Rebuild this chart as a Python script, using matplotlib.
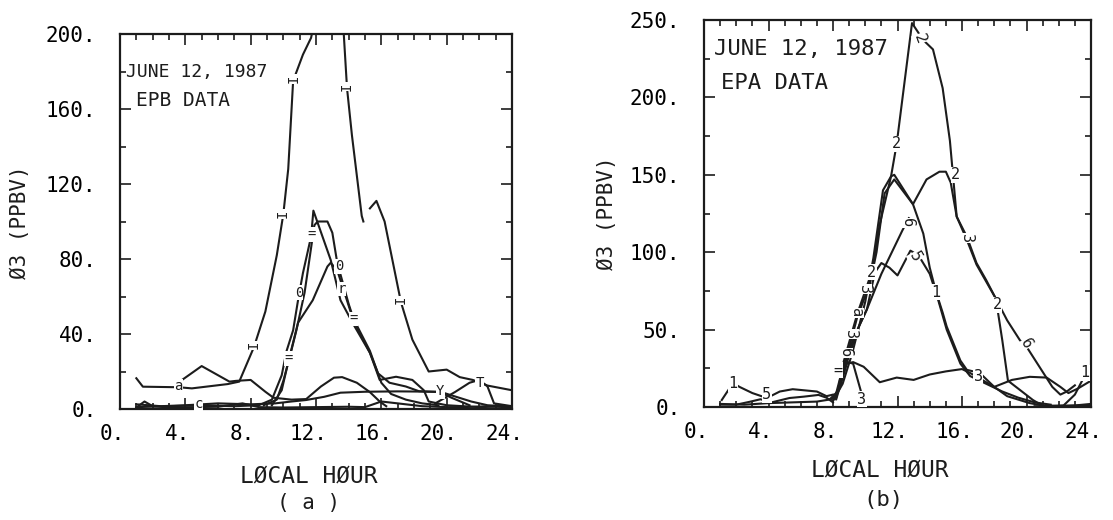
import numpy as np
import matplotlib
matplotlib.use("Agg")
import matplotlib.pyplot as plt
import matplotlib.transforms as mtransforms
from matplotlib.ticker import MultipleLocator

plt.rcParams['font.family'] = ['DejaVu Sans Mono', 'DejaVu Sans']

nan = np.nan
x_ticks = [0, 4, 8, 12, 16, 20, 24]
x_tick_labels = ["0.", "4.", "8.", "12.", "16.", "20.", "24."]
a_y_ticks = [0, 40, 80, 120, 160, 200]
a_y_tick_labels = ["0.", "40.", "80.", "120.", "160.", "200."]
b_y_ticks = [0, 50, 100, 150, 200, 250]
b_y_tick_labels = ["0.", "50.", "100.", "150.", "200.", "250."]

# panel (a): EPB stations, local hour vs O3 (ppbv)
a_h1 = [1.0, 1.4, 3.6, 4.4, 6.6, 7.3, 8.2, 8.9, 9.6, 10.0, 10.3, 10.6, 11.2, 11.7, 12.7, 13.7, 13.9,
        14.2, 14.8, 14.9, nan, 15.3, 15.7, 16.2, 17.2, 17.9, 18.9, 20.0, 20.8, 21.6, 22.5, 24.0]
a_v1 = [16.4, 11.9, 11.6, 11.0, 13.3, 14.6, 33, 52, 82, 104, 128, 175, 189, 198, 240, 200, 171,
        146, 103, 100, nan, 107, 111, 100, 57, 37, 20, 21, 17, 15.5, 12.5, 10]
a_h2 = [3.6, 3.8, 5.0, 6.7, 7.1, 8.0, 8.9, 9.4, 10.5, 11.4, 12.3, 13.1, 13.6, 14.5, 15.3, 15.9, 16.3]
a_v2 = [11.6, 15.5, 22.9, 14.6, 15, 15.5, 9.2, 6, 5, 5.3, 12, 16.7, 17, 14, 9, 4, 1.5]
a_h3 = [1.0, 3.0, 5.0, 7.0, 8.5, 9.3, 9.9, 10.2, 10.6, 10.9, 11.2, 11.7, 11.84, 12.9, 13.5, 14.3,
        15.3, 15.9, 16.9, 17.9, 18.6, 18.9, 20.0, 22.0, 24.0]
a_v3 = [1, 1.5, 2, 1.5, 2, 5, 18, 31, 42, 58, 72.5, 92, 105.8, 79.5, 58, 45,
        30, 15.5, 17.2, 15.5, 10, 4, 2, 1, 1.5]
a_h4 = [8.8, 9.6, 10.0, 10.4, 10.8, 11.3, 11.9, 12.1, 12.7, 13.0, 13.3, 14.0, 14.3, 15.3, 16.0,
        16.6, 17.5, 18.5, 19.5]
a_v4 = [2, 5, 15, 28, 42, 62, 98, 100, 100, 94, 78, 56, 48, 31, 14, 8, 5, 3, 2]
a_h5 = [9.3, 9.9, 10.3, 10.9, 11.8, 12.7, 12.9, 13.3, 14.3, 15.3, 15.8, 16.5, 17.5, 18.3, 19.6, 20.3, 21.4]
a_v5 = [2, 10, 25, 46, 58, 76, 78, 74, 47, 30, 19, 14, 12, 9.5, 9, 6, 2]
a_h6 = [1.0, 2.5, 4.0, 6.0, 8.0, 9.5, 10.5, 11.4, 12.5, 13.5, 15.0, 17.0, 19.6, 20.4, 21.5, 22.5, 23.5]
a_v6 = [2.5, 1.5, 2, 3, 2.5, 3, 4, 4.8, 6.5, 8.7, 9.2, 9.4, 9.2, 7, 4, 2, 1.5]
a_h7 = [1.0, 1.5, 2.0, 3.0, 4.5, 6.0, 7.5, 8.5, 10.0, 12.0, 14.0, 15.0, 16.0, 17.0, 18.5, 20.0, 21.0, 22.5, 24.0]
a_v7 = [0.8, 4, 1.5, 0.8, 1, 1.2, 3, 1, 0.8, 1, 1.2, 1, 4, 3, 1.5, 1, 1, 1.5, 0.8]
a_h8 = [19.3, 20.5, 21.4, 22.0, 22.5, 22.9, 24.0]
a_v8 = [3, 9, 14, 15.5, 12, 3, 1.5]
a_series = [(a_h1, a_v1), (a_h2, a_v2), (a_h3, a_v3), (a_h4, a_v4),
            (a_h5, a_v5), (a_h6, a_v6), (a_h7, a_v7), (a_h8, a_v8)]

# curve tags written on the lines (text, hour, value, rotation)
a_tags = [("I", 8.2, 34, 90), ("I", 9.97, 104, 90), ("I", 10.6, 176, 90), ("I", 13.9, 172, 90),
          ("I", 17.2, 58, 90), ("=", 11.7, 93, 0), ("=", 10.35, 27, 0), ("0", 10.95, 62, 0),
          ("0", 13.4, 76, 0), ("r", 13.55, 64, 0), ("=", 14.3, 48, 0), ("Y", 19.6, 9.5, 0),
          ("T", 22.0, 14, 0), ("a", 3.6, 12, 0), ("c", 4.8, 2.5, 0)]

# panel (b): EPA stations
b_h_big = [7.8, 8.3, 8.6, 9.5, 10.4, 10.9, 11.6, 11.95, 12.9, 13.6, 14.2, 14.8, 15.25, 15.67,
           16.3, 16.9, 17.5, 18.1, 18.5, 18.85, 20.4, 21.0, 22.0, 23.0, 24.0]
b_v_big = [5, 10, 27, 60, 87, 118, 149, 170, 248, 237, 231, 206, 172, 123,
           110, 93, 82, 70, 43, 17, 4.5, 0.8, 0.5, 1, 2]
b_h_dip = [8.0, 8.6, 9.2, 10.0, 10.5, 11.1, 11.6, 11.8, 12.96, 13.8, 14.6, 15.0, 15.3, 15.67,
           16.3, 16.9, 17.5, 18.1, 18.8, 19.6, 20.0, 20.8, 21.6, 22.1, 22.5, 23.0]
b_v_dip = [4, 15, 35, 68, 96, 140, 149, 150, 131, 147, 152, 152, 145, 123,
           108, 92, 81, 70, 56, 43, 39, 26, 13, 8, 10, 14]
b_h_one = [8.2, 8.8, 9.5, 10.3, 10.7, 11.2, 11.8, 12.96, 13.6, 14.0, 14.4, 14.8, 15.05, 15.9,
           16.3, 17.1, 18.0, 18.8, 20.2, 21.0, 22.0, 24.0]
b_v_one = [6, 30, 58, 80, 100, 138, 147, 131, 112, 90, 74, 61, 52, 30,
           24, 22, 13, 7, 2.5, 1, 0.8, 1]
b_h_six = [8.1, 8.6, 9.3, 10.1, 11.0, 12.3, 12.7]
b_v_six = [5, 25, 45, 63, 86, 114, 122]
b_h_five = [8.2, 8.9, 9.6, 10.1, 10.6, 11.0, 11.5, 12.0, 12.8, 13.3, 14.0, 14.5, 15.05, 15.9,
            16.5, 17.5, 18.5, 19.5, 20.5, 21.5]
b_v_five = [5, 30, 52, 63, 87, 93, 90, 85, 101, 98, 86, 70, 50, 28, 20, 15, 10, 6, 3, 1.5]
b_h_flat = [1.0, 2.5, 4.0, 5.5, 7.0, 7.9, 8.4, 8.85, 9.25, 9.9, 10.3, 10.9, 11.95, 13.0, 14.0,
            15.0, 16.0, 16.5, 18.0, 19.1, 20.2, 21.25, 22.1, 22.6, 23.2, 24.0]
b_v_flat = [2, 1.5, 2.5, 3, 3.5, 5, 12, 28, 29, 26, 22, 16, 19, 17.5, 21,
            23, 24.5, 22, 13, 17.5, 19.5, 19, 13, 9, 12, 17]
b_h_low1 = [1.1, 1.8, 2.2, 3.0, 3.9, 4.7, 5.5, 6.0, 7.0, 7.6, 8.0]
b_v_low1 = [4.5, 15.5, 13, 9, 5.8, 10, 11.5, 11, 10, 7, 8]
b_h_low2 = [1.0, 2.0, 2.85, 3.5, 4.2, 5.3, 6.2, 7.1, 7.6, 8.0]
b_v_low2 = [1.5, 1.5, 3.4, 5, 3, 5.8, 6.7, 7.8, 6, 3]
b_h_end = [20.5, 21.5, 22.3, 23.0, 23.6, 24.0]
b_v_end = [0.5, 0.5, 1, 8, 20, 27]
b_h_drop = [8.9, 9.25, 9.6, 9.9]
b_v_drop = [29, 28, 15, 4]
b_series = [(b_h_big, b_v_big), (b_h_dip, b_v_dip), (b_h_one, b_v_one), (b_h_six, b_v_six),
            (b_h_five, b_v_five), (b_h_flat, b_v_flat), (b_h_low1, b_v_low1),
            (b_h_low2, b_v_low2), (b_h_end, b_v_end), (b_h_drop, b_v_drop)]

b_tags = [("2", 11.95, 170, 0), ("2", 13.4, 238, -70), ("2", 15.6, 150, 0), ("3", 16.3, 109, -90),
          ("2", 18.2, 66, 0), ("6", 20.0, 41, -60), ("6", 12.6, 119, -90), ("5", 13.1, 97, -60),
          ("1", 14.4, 74, 0), ("2", 10.4, 87, 0), ("3", 9.95, 76, -90), ("a", 9.45, 61, -90),
          ("3", 9.1, 47, -90), ("6", 8.75, 35, -90), ("=", 8.3, 24, 0), ("1", 1.8, 15, 0),
          ("5", 3.9, 8, 0), ("3", 9.8, 5, 0), ("3", 17.0, 20, 0), ("1", 23.6, 22, 0)]

W, H = 1113, 520
fig = plt.figure(figsize=(W / 100, H / 100), dpi=100)
ink = '#1c1c1c'


def px_axes(left, top, right, bottom):
    return fig.add_axes([left / W, 1 - bottom / H, (right - left) / W, (bottom - top) / H])


def style(ax, ymax, yticks, ylabels, yminor):
    ax.set_xlim(0, 24)
    ax.set_ylim(0, ymax)
    ax.set_xticks(x_ticks)
    ax.set_xticklabels(x_tick_labels, fontsize=15)
    ax.set_yticks(yticks)
    ax.set_yticklabels(ylabels, fontsize=15)
    ax.xaxis.set_minor_locator(MultipleLocator(1))
    ax.yaxis.set_minor_locator(MultipleLocator(yminor))
    ax.tick_params(which='both', direction='in', top=True, right=True, width=1.2, color=ink)
    ax.tick_params(which='major', length=8)
    ax.tick_params(which='minor', length=4)
    ax.tick_params(axis='x', pad=11)
    ax.tick_params(axis='y', pad=17)
    shift = mtransforms.ScaledTranslation(-8 / 100, 0, fig.dpi_scale_trans)
    for lab in ax.get_xticklabels():
        lab.set_transform(lab.get_transform() + shift)
    for sp in ax.spines.values():
        sp.set_linewidth(1.6)
        sp.set_color(ink)


def draw(ax, series, tags, fs):
    for h, v in series:
        ax.plot(h, v, color=ink, lw=1.5, clip_on=True)
    for t, h, v, rot in tags:
        ax.text(h, v, t, fontsize=fs, rotation=rot, ha='center', va='center', color=ink,
                bbox=dict(facecolor='white', edgecolor='none', pad=0.3))


ax_a = px_axes(120, 34, 512, 409)
style(ax_a, 200, a_y_ticks, a_y_tick_labels, 20)
draw(ax_a, a_series, a_tags, 10)

ax_b = px_axes(704, 20, 1091, 407)
style(ax_b, 250, b_y_ticks, b_y_tick_labels, 25)
draw(ax_b, b_series, b_tags, 11)


def ftext(x, y, s, **kw):
    fig.text(x / W, 1 - y / H, s, color=ink, **kw)


ftext(126, 72, "JUNE 12, 1987", fontsize=13, ha='left', va='center')
ftext(136, 101, "EPB DATA", fontsize=14, ha='left', va='center')
ftext(714, 49, "JUNE 12, 1987", fontsize=16, ha='left', va='center')
ftext(721, 83, "EPA DATA", fontsize=16, ha='left', va='center')

ftext(20, 222, "Ø3 (PPBV)", fontsize=15, rotation=90, ha='center', va='center')
ftext(607, 213, "Ø3 (PPBV)", fontsize=15, rotation=90, ha='center', va='center')
ftext(309, 476, "LØCAL HØUR", fontsize=16.5, ha='center', va='center')
ftext(309, 503, "( a )", fontsize=15, ha='center', va='center')
ftext(880, 470, "LØCAL HØUR", fontsize=16.5, ha='center', va='center')
ftext(883, 500, "(b)", fontsize=16, ha='center', va='center')

fig.savefig("out.png", dpi=100)
